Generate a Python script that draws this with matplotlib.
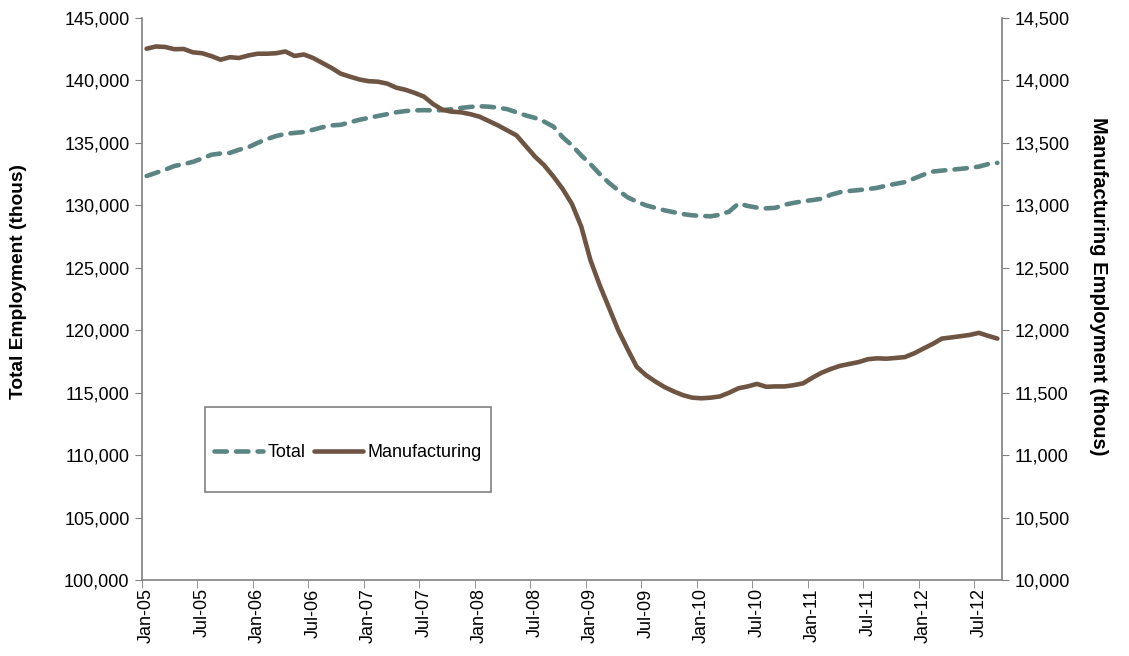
import matplotlib
matplotlib.use("Agg")
import matplotlib.pyplot as plt
from matplotlib.patches import Rectangle
from matplotlib.ticker import FuncFormatter, MultipleLocator
import numpy as np

plt.rcParams['font.family'] = ['Liberation Sans', 'DejaVu Sans']

# Monthly data Jan-05 .. Sep-12 (thousands)
total = [
    132350, 132600, 132850, 133150, 133300, 133480, 133750, 134050, 134150, 134200, 134450, 134650,
    135000, 135300, 135550, 135720, 135800, 135870, 136050, 136250, 136400, 136450, 136650, 136850,
    137000, 137150, 137300, 137450, 137550, 137600, 137620, 137600, 137620, 137700, 137800, 137880,
    137930, 137900, 137820, 137700, 137450, 137200, 137000, 136700, 136300, 135450, 134800, 134000,
    133300, 132500, 131800, 131200, 130650, 130300, 130000, 129800, 129600, 129450, 129300, 129200,
    129150, 129120, 129250, 129500, 130150, 129950, 129820, 129760, 129800, 130050, 130200, 130330,
    130420, 130530, 130850, 131050, 131150, 131220, 131300, 131400, 131580, 131720, 131860, 132150,
    132450, 132700, 132780, 132850, 132920, 133000, 133100, 133300, 133400,
]
manufacturing = [
    14254, 14272, 14268, 14250, 14252, 14225, 14218, 14195, 14166, 14186, 14180, 14200,
    14214, 14214, 14218, 14232, 14196, 14208, 14180, 14140, 14100, 14054, 14030, 14008,
    13994, 13990, 13975, 13942, 13925, 13900, 13870, 13810, 13765, 13750, 13745, 13730,
    13710, 13675, 13640, 13600, 13560, 13475, 13390, 13320, 13230, 13130, 13010, 12830,
    12560, 12360, 12180, 12000, 11850, 11707, 11640, 11590, 11545, 11510, 11480, 11460,
    11455, 11460, 11470, 11500, 11535, 11550, 11570, 11547, 11550, 11550, 11560, 11575,
    11620, 11660, 11690, 11715, 11730, 11745, 11768, 11775, 11772, 11778, 11785, 11815,
    11853, 11890, 11933, 11942, 11952, 11962, 11979, 11955, 11933,
]
tick_labels = ["Jan-05", "Jul-05", "Jan-06", "Jul-06", "Jan-07", "Jul-07", "Jan-08", "Jul-08",
               "Jan-09", "Jul-09", "Jan-10", "Jul-10", "Jan-11", "Jul-11", "Jan-12", "Jul-12"]

TEAL = "#5b8582"
BROWN = "#6e5443"
AXC = "#808080"

fig = plt.figure(figsize=(11.29, 6.56), dpi=100)
ax = fig.add_axes([142/1129, 1-580/656, 860/1129, 562/656])
ax2 = ax.twinx()

x = np.arange(len(total))
l1, = ax.plot(x, total, color=TEAL, lw=3.3, dashes=(2.7, 2.0), dash_capstyle='round',
              solid_capstyle='round', label="Total", zorder=3)
l2, = ax2.plot(x, manufacturing, color=BROWN, lw=3.3, solid_capstyle='round',
               label="Manufacturing", zorder=3)

ax.set_xlim(-0.5, len(total) - 0.5)
ax.set_ylim(100000, 145000)
ax2.set_ylim(10000, 14500)
ax.yaxis.set_major_locator(MultipleLocator(5000))
ax2.yaxis.set_major_locator(MultipleLocator(500))
fmt = FuncFormatter(lambda v, p: f"{int(round(v)):,}")
ax.yaxis.set_major_formatter(fmt)
ax2.yaxis.set_major_formatter(fmt)

# x ticks: marks at category boundaries, labels centred on the month
ax.set_xticks(np.arange(0, len(total), 6))
ax.set_xticklabels(tick_labels, rotation=90)
ax.set_xticks(np.arange(0, len(total), 6) - 0.5, minor=True)
ax.tick_params(axis='x', which='major', length=0, pad=6, labelsize=13)
ax.tick_params(axis='x', which='minor', length=6, color=AXC, direction='out')

for a in (ax, ax2):
    for s in a.spines.values():
        s.set_color(AXC)
        s.set_linewidth(1.2)
    a.spines['top'].set_visible(False)
ax.spines['right'].set_visible(False)
ax2.spines['left'].set_visible(False)
ax2.spines['bottom'].set_visible(False)

ax.tick_params(axis='y', length=5, color=AXC, labelsize=13, pad=4)
ax2.tick_params(axis='y', length=5, color=AXC, labelsize=13, pad=4)

ax.set_ylabel("Total Employment (thous)", fontsize=13.8, fontweight='bold')
ax.yaxis.set_label_coords((27-142)/860, (580-281.5)/562)
ax2.set_ylabel("Manufacturing Employment (thous)", fontsize=14.5, fontweight='bold',
               rotation=270)
ax2.yaxis.set_label_coords((1108-142)/860, (580-286)/562)

# legend box
bx0, by0 = (205-142)/860, (580-491.7)/562
bw, bh = 285.7/860, 84.3/562
ax.add_patch(Rectangle((bx0, by0), bw, bh, transform=ax.transAxes, fill=True,
                       facecolor='white', edgecolor=AXC, lw=1.2, zorder=5))
leg = ax.legend([l1, l2], ["Total", "Manufacturing"], ncol=2, frameon=False,
                loc='center', bbox_to_anchor=(bx0 + bw/2, by0 + bh/2 - 3/562), fontsize=13,
                handlelength=2.7, handletextpad=0.25, columnspacing=0.5)
leg.set_zorder(6)

fig.savefig("out.png", dpi=100)
